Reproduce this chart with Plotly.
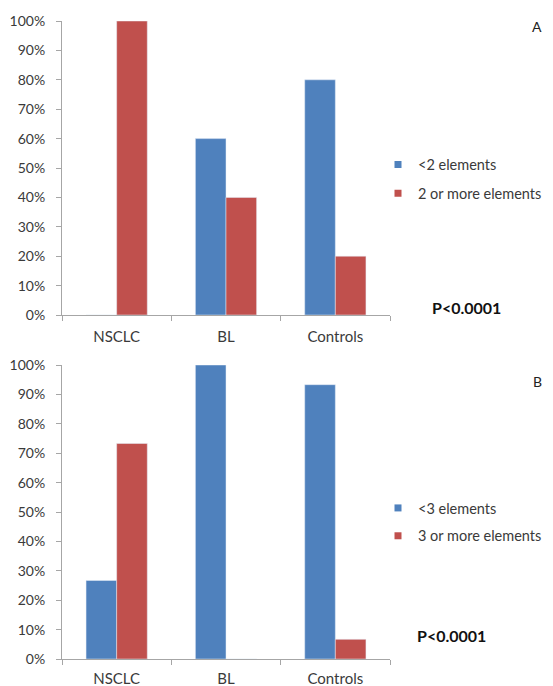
import plotly.graph_objects as go

categories = ["NSCLC", "BL", "Controls"]
a_lt2 = [0.0, 0.60, 0.80]
a_ge2 = [1.00, 0.40, 0.20]
b_lt3 = [0.267, 1.00, 0.933]
b_ge3 = [0.733, 0.0, 0.067]
names_a = ["<2 elements", "2 or more elements"]
names_b = ["<3 elements", "3 or more elements"]
tick_vals = [0, 0.1, 0.2, 0.3, 0.4, 0.5, 0.6, 0.7, 0.8, 0.9, 1.0]

BLUE = "#4F81BD"
RED = "#C0504D"
TXT = "#3A3A3A"
AX = "#A6A6A6"
FONT = "Lato"
FS = 15

# the page has an 8px body margin; size the figure to the remaining area
OFF = 8
W, H = 553 - OFF, 686 - OFF


def px(x):
    return (x - OFF) / W


def py(y):
    return 1 - (y - OFF) / H


fig = go.Figure()

# bars
fig.add_trace(go.Bar(x=categories, y=a_lt2, name=names_a[0], marker_color=BLUE,
                     xaxis="x", yaxis="y", showlegend=False))
fig.add_trace(go.Bar(x=categories, y=a_ge2, name=names_a[1], marker_color=RED,
                     xaxis="x", yaxis="y", showlegend=False))
fig.add_trace(go.Bar(x=categories, y=b_lt3, name=names_b[0], marker_color=BLUE,
                     xaxis="x2", yaxis="y2", showlegend=False))
fig.add_trace(go.Bar(x=categories, y=b_ge3, name=names_b[1], marker_color=RED,
                     xaxis="x2", yaxis="y2", showlegend=False))

# legend entries (small square swatches)
for nm, col, leg, grp, ax in [(names_a[0], BLUE, "legend", "a1", "x"),
                              (names_a[1], RED, "legend", "a2", "x"),
                              (names_b[0], BLUE, "legend2", "b1", "x2"),
                              (names_b[1], RED, "legend2", "b2", "x2")]:
    fig.add_trace(go.Scatter(x=[None], y=[None], mode="markers", name=nm,
                             marker=dict(symbol="square", size=7, color=col),
                             xaxis=ax, yaxis="y" if ax == "x" else "y2",
                             legend=leg, legendgroup=grp, showlegend=True))

xdom = [px(62), px(390)]
ytop = [py(315), py(21)]
ybot = [py(659), py(365)]

xcommon = dict(domain=xdom, showline=True, linecolor=AX, linewidth=1,
               ticks="outside", tickson="boundaries", ticklen=5, tickcolor=AX,
               tickfont=dict(family=FONT, size=FS, color=TXT), showgrid=False,
               zeroline=False, automargin=False)
ycommon = dict(range=[0, 1], tickvals=tick_vals, tickformat=".0%", showline=True,
               linecolor=AX, linewidth=1, ticks="outside", ticklen=5, tickcolor=AX,
               ticklabelstandoff=8,
               tickfont=dict(family=FONT, size=14, color=TXT), showgrid=False,
               zeroline=False, automargin=False)

legcommon = dict(xanchor="left", yanchor="middle", itemwidth=30,
                 font=dict(family=FONT, size=14.5, color=TXT),
                 bgcolor="rgba(0,0,0,0)")

ann_font = dict(family=FONT, size=14, color="#222")
p_font = dict(family=FONT, size=16, color="#111")

fig.update_layout(
    width=W, height=H,
    margin=dict(l=0, r=0, t=0, b=0),
    paper_bgcolor="white", plot_bgcolor="white",
    barmode="group", bargap=0.44, bargroupgap=0,
    xaxis=dict(anchor="y", ticklabelstandoff=8, **xcommon),
    yaxis=dict(domain=ytop, anchor="x", **ycommon),
    xaxis2=dict(anchor="y2", ticklabelstandoff=6, **xcommon),
    yaxis2=dict(domain=ybot, anchor="x2", **ycommon),
    legend=dict(x=px(378), y=py(179), tracegroupgap=7, **legcommon),
    legend2=dict(x=px(378), y=py(522), tracegroupgap=6, **legcommon),
    annotations=[
        dict(text="A", x=px(537), y=py(26), xref="paper", yref="paper",
             xanchor="center", yanchor="middle", showarrow=False, font=ann_font),
        dict(text="B", x=px(537), y=py(381), xref="paper", yref="paper",
             xanchor="center", yanchor="middle", showarrow=False, font=ann_font),
        dict(text="<b>P<0.0001</b>", x=px(466), y=py(307), xref="paper", yref="paper",
             xanchor="center", yanchor="middle", showarrow=False, font=p_font),
        dict(text="<b>P<0.0001</b>", x=px(451), y=py(635), xref="paper", yref="paper",
             xanchor="center", yanchor="middle", showarrow=False, font=p_font),
    ],
)

fig.write_html("out.html")
